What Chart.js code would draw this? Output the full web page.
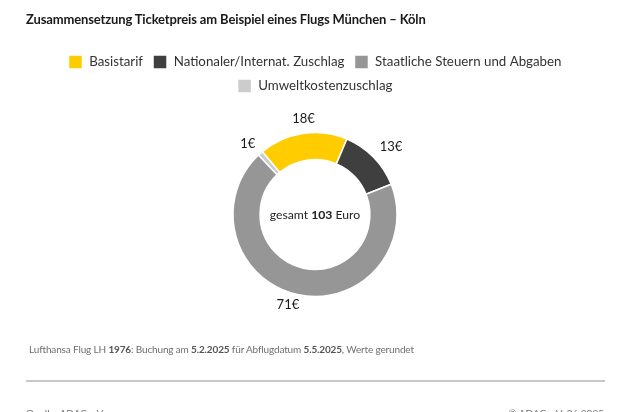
<!DOCTYPE html>
<html><head><meta charset="utf-8">
<script src="https://cdn.jsdelivr.net/npm/chart.js@4"></script>
<style>
html,body{margin:0;padding:0;background:#fff;overflow:hidden}
body{width:630px;height:412px;position:relative;font-family:Lato,sans-serif}
canvas{position:absolute;left:0;top:0}
.t{position:absolute;white-space:nowrap}
#title{left:26px;top:10px;font-size:13px;letter-spacing:-0.14px;font-weight:700;color:#1a1a1a;line-height:18px}
#note{left:29px;top:342px;font-size:10px;letter-spacing:-0.15px;color:#6f6f6f;line-height:14px}
#note b{font-weight:700;color:#555}
#rule{position:absolute;left:26px;top:380px;width:579px;height:2px;background:#c8c8c8}
#src{left:26px;top:407px;font-size:10px;color:#777;line-height:13px}
#copy{right:26px;top:407px;font-size:10px;color:#777;line-height:13px}
</style></head><body>
<canvas id="c" width="630" height="412"></canvas>
<div class="t" id="title">Zusammensetzung Ticketpreis am Beispiel eines Flugs München – Köln</div>
<div class="t" id="note">Lufthansa Flug LH <b>1976</b>: Buchung am <b>5.2.2025</b> für Abflugdatum <b>5.5.2025</b>, Werte gerundet</div>
<div id="rule"></div>
<div class="t" id="src">Quelle: ADAC e.V.</div>
<div class="t" id="copy">© ADAC e.V. 06 2025</div>
<script>
const categories=["Basistarif","Nationaler/Internat. Zuschlag","Staatliche Steuern und Abgaben","Umweltkostenzuschlag"];
const values=[18,13,71,1];
const valueLabels=["18€","13€","71€","1€"];
const colors=["#ffcc00","#3f3f3f","#969696","#cccccc"];
const FONT='Lato,sans-serif';

const labelsPlugin={id:'labelsPlugin',afterDatasetsDraw(chart){
  const ctx=chart.ctx,arcs=chart.getDatasetMeta(0).data;
  const nudge=[[3,1],[6,1],[-6,-5],[-2,2]];
  ctx.save();ctx.textAlign='center';ctx.textBaseline='middle';
  ctx.font='13px '+FONT;ctx.fillStyle='#1a1a1a';
  arcs.forEach((a,i)=>{
    const m=(a.startAngle+a.endAngle)/2,r=a.outerRadius+16;
    ctx.fillText(valueLabels[i],a.x+Math.cos(m)*r+nudge[i][0],a.y+Math.sin(m)*r+nudge[i][1]);
  });
  const a=arcs[0];
  const parts=[["gesamt ",'12.2px '+FONT],["103",'bold 12.2px '+FONT],[" Euro",'12.2px '+FONT]];
  let w=0;parts.forEach(p=>{ctx.font=p[1];w+=ctx.measureText(p[0]).width;});
  let x=a.x-w/2;ctx.textAlign='left';ctx.fillStyle='#222';
  parts.forEach(p=>{ctx.font=p[1];ctx.fillText(p[0],x,a.y+1);x+=ctx.measureText(p[0]).width;});
  ctx.restore();
}};

new Chart(document.getElementById('c'),{
  type:'doughnut',
  data:{labels:categories,datasets:[{data:values,backgroundColor:colors,borderColor:'#fff',borderWidth:1.5}]},
  options:{responsive:false,animation:false,devicePixelRatio:1,
    rotation:-40,cutout:'67%',radius:82,
    layout:{padding:{top:45,bottom:86}},
    plugins:{tooltip:{enabled:false},
      legend:{position:'top',labels:{boxWidth:14,boxHeight:14,padding:10,color:'#333',font:{family:FONT,size:13.3}}}
    }},
  plugins:[labelsPlugin]
});
</script></body></html>
